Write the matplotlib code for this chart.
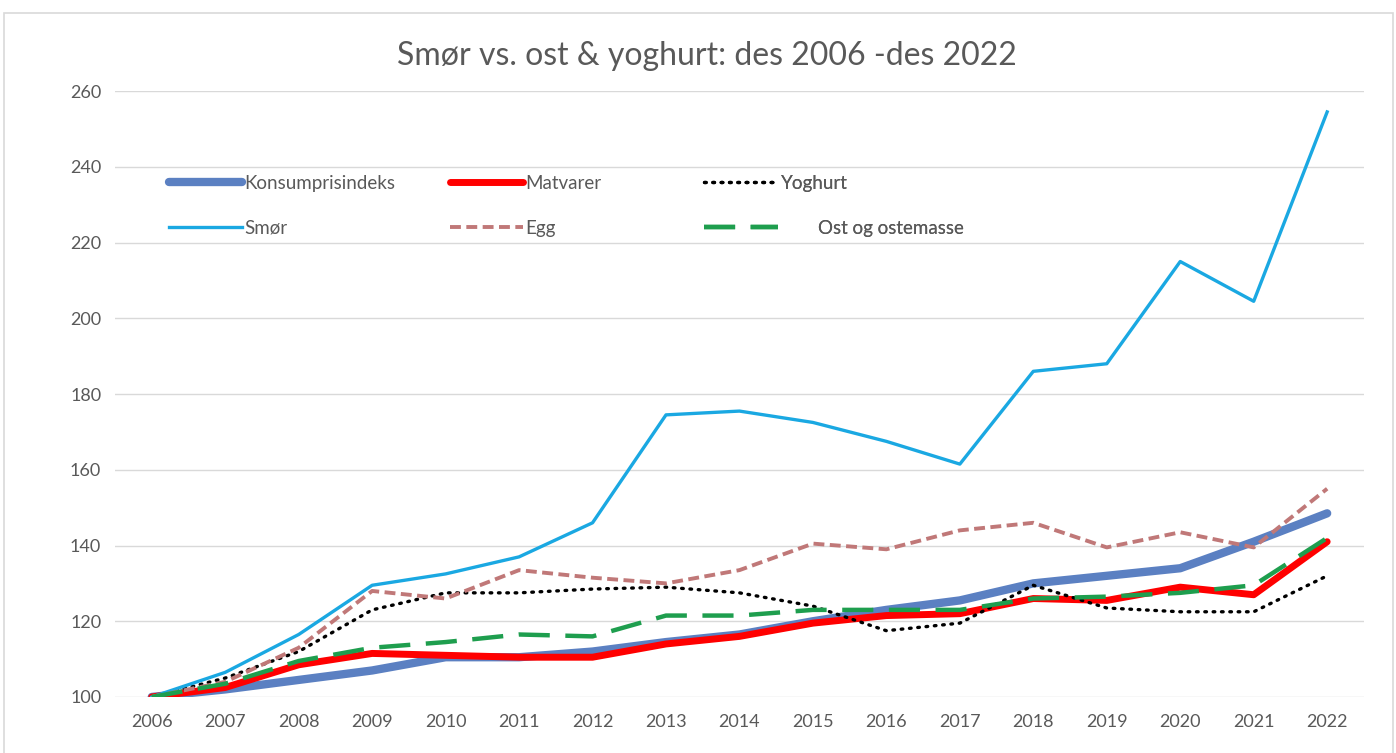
import matplotlib.pyplot as plt
from matplotlib.patches import Rectangle

plt.rcParams['font.family'] = ['Lato', 'DejaVu Sans']

years = list(range(2006, 2023))

konsumprisindeks = [100, 102, 104.5, 107, 110.5, 110.5, 112, 114.5, 116.5, 120, 123, 125.5, 130, 132, 134, 141, 148.5]
matvarer = [100, 102.5, 108.5, 111.5, 111, 110.5, 110.5, 114, 116, 119.5, 121.5, 122, 126, 125.5, 129, 127, 141]
yoghurt = [100, 105, 112, 123, 127.5, 127.5, 128.5, 129, 127.5, 124, 117.5, 119.5, 129.5, 123.5, 122.5, 122.5, 132]
smor = [100, 106.5, 116.5, 129.5, 132.5, 137, 146, 174.5, 175.5, 172.5, 167.5, 161.5, 186, 188, 215, 204.5, 254.5]
egg = [100, 104, 113, 128, 126, 133.5, 131.5, 130, 133.5, 140.5, 139, 144, 146, 139.5, 143.5, 139.5, 155]
ost = [100, 103.5, 109.5, 113, 114.5, 116.5, 116, 121.5, 121.5, 123, 123, 123, 126, 126.5, 127.5, 129.5, 142]

yticks = list(range(100, 261, 20))
title = 'Smør vs. ost & yoghurt: des 2006 -des 2022'

fig = plt.figure(figsize=(13.96, 7.53), dpi=100)
ax = fig.add_axes([0.0824, 0.0744, 0.8946, 0.8046])

# outer chart border
fig.patches.append(Rectangle((0.003, -0.05), 0.995, 1.033, transform=fig.transFigure,
                             fill=False, edgecolor='#d9d9d9', linewidth=1.2))

l_kpi, = ax.plot(years, konsumprisindeks, color='#5b80c2', lw=6, solid_capstyle='round',
                 label='Konsumprisindeks', zorder=3)
l_mat, = ax.plot(years, matvarer, color='#ff0000', lw=5, solid_capstyle='round',
                 label='Matvarer', zorder=4)
l_yog, = ax.plot(years, yoghurt, color='black', lw=2.4, linestyle=(0, (0.5, 2.0)),
                 dash_capstyle='round', label='Yoghurt', zorder=5)
l_smor, = ax.plot(years, smor, color='#1aa8e2', lw=2.4, label='Smør', zorder=6)
l_egg, = ax.plot(years, egg, color='#c07878', lw=2.8, linestyle=(0, (2.8, 1.4)),
                 label='Egg', zorder=7)
l_ost, = ax.plot(years, ost, color='#1e9e4e', lw=3.2, linestyle=(0, (7, 3.5)),
                 label='        Ost og ostemasse', zorder=8)

ax.set_xlim(2005.5, 2022.5)
ax.set_ylim(100, 260)
ax.set_xticks(years)
ax.set_yticks(yticks)
ax.grid(axis='y', color='#d9d9d9', lw=1)
ax.set_axisbelow(True)
for s in ax.spines.values():
    s.set_visible(False)
ax.tick_params(length=0, colors='#595959', labelsize=13)
ax.tick_params(axis='y', pad=10)
ax.tick_params(axis='x', pad=12)

fig.text(0.506, 0.925, title, fontsize=23, color='#595959', ha='center', va='center')

# legend in three columns
leg_kw = dict(loc='upper left', frameon=False, fontsize=13.5, handlelength=3.9,
              handletextpad=0.15, labelspacing=1.5, borderpad=0, borderaxespad=0,
              labelcolor='#595959')
cols = [([l_kpi, l_smor], 0.043), ([l_mat, l_egg], 0.268), ([l_yog, l_ost], 0.472)]
for handles, x in cols:
    lg = ax.legend(handles=handles, bbox_to_anchor=(x, 0.862), **leg_kw)
    ax.add_artist(lg)

fig.savefig('out.png', dpi=100)
